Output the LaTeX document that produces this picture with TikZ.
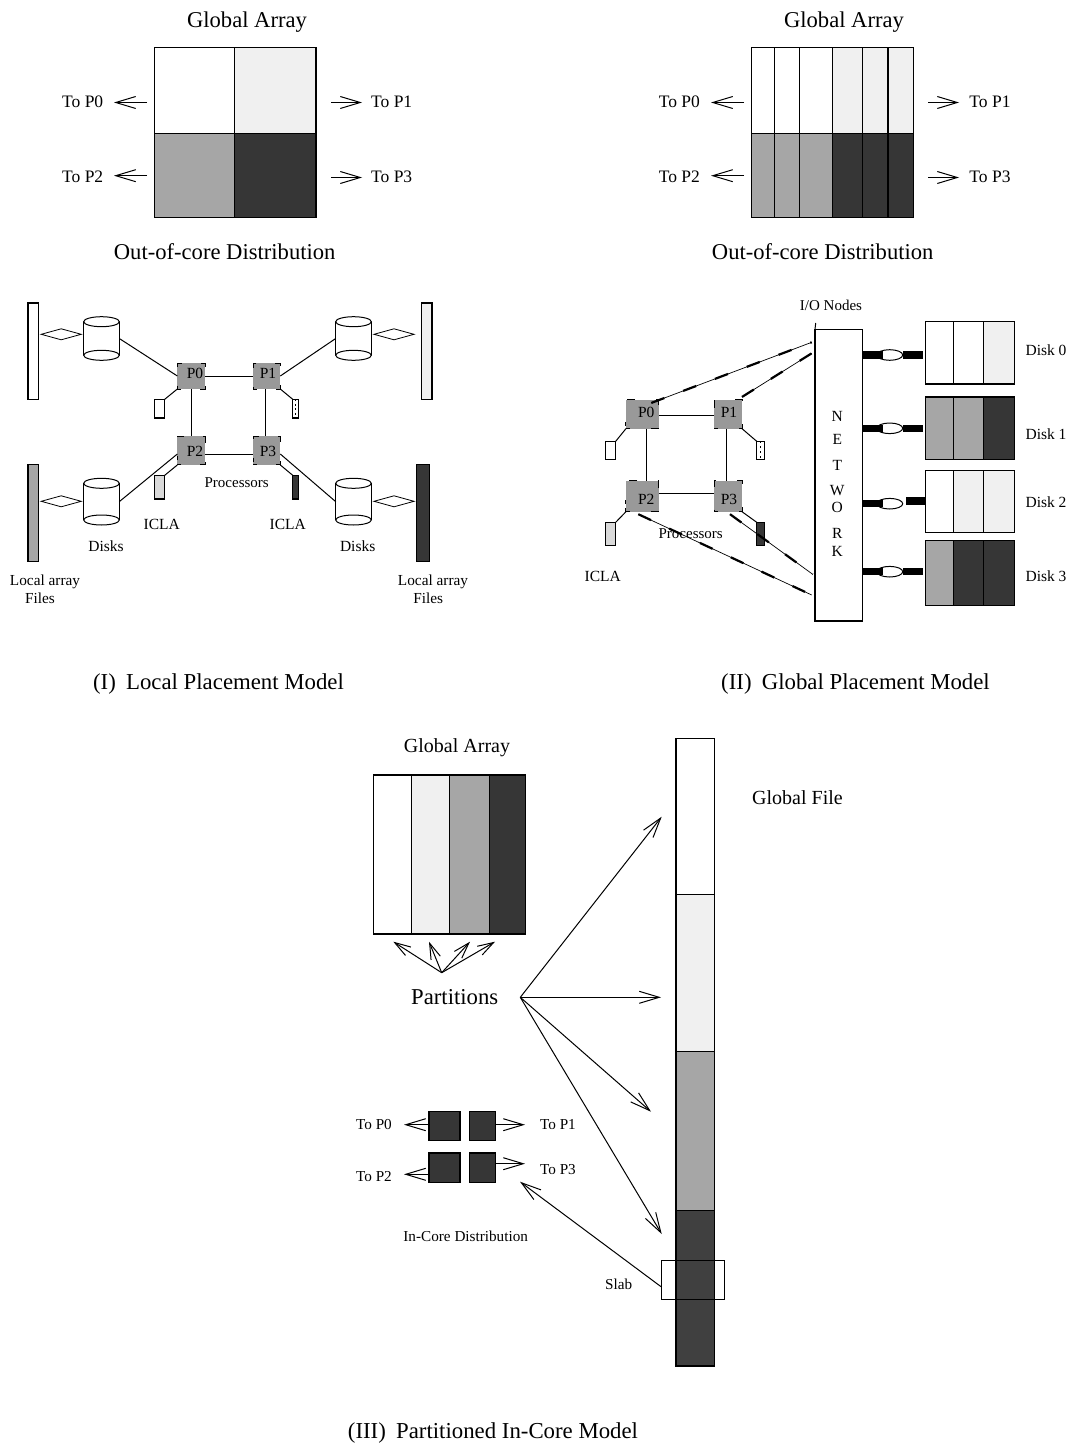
\documentclass[tikz,border=0pt]{standalone}
\usepackage{fontspec}
\setmainfont{Liberation Serif}
\usetikzlibrary{arrows.meta,shapes.geometric}
\definecolor{cw}{HTML}{FFFFFF}
\definecolor{cl}{HTML}{F0F0F0}
\definecolor{cm}{HTML}{A6A6A6}
\definecolor{cd}{HTML}{363636}
\definecolor{cf}{HTML}{404040}
\definecolor{cp}{HTML}{999999}
\definecolor{ci}{HTML}{D9D9D9}
\newcommand{\bx}[6]{\node[cellbox,fill=#6,minimum width={(#4-#2)*1pt},minimum height={(#5-#3)*1pt}] (#1) at ({(#2+#4)/2},{(#3+#5)/2}) {};}
\newcommand{\cyl}[5]{%
  \node[inner sep=0,outer sep=0,minimum width={(#3-#2)*1pt},minimum height={(#5-#4)*1pt}] (#1) at ({(#2+#3)/2},{(#4+#5)/2}) {};
  \draw[thinln] (#2,#4) -- (#2,#5) (#3,#4) -- (#3,#5);
  \draw[thinln] ({(#2+#3)/2},#4) ellipse [x radius={(#3-#2)/2},y radius=5];
  \draw[thinln] ({(#2+#3)/2},#5) ellipse [x radius={(#3-#2)/2},y radius=5];}
\newcommand{\txt}[5]{\node[lbl,anchor=base,font=\fontsize{#5}{#5}\selectfont] (#1) at (#2,{#3+0.33*#5}) {#4};}
\tikzset{
  cellbox/.style={draw=black,line width=1.1pt,inner sep=0,outer sep=0},
  thinln/.style={draw=black,line width=1pt},
  lbl/.style={inner sep=0,outer sep=0,text=black,align=center},
  arr/.style={draw=black,line width=1pt,-{Straight Barb[length=20pt,width=12pt]}},
  arrs/.style={draw=black,line width=1pt,-{Straight Barb[length=16pt,width=10pt]}},
  procA/.style={draw=black,fill=cp,line width=1pt,inner sep=0,outer sep=0,dash pattern=on 4pt off 19pt on 8pt off 19pt on 8pt off 19pt on 8pt off 19pt on 4pt},
  procB/.style={draw=black,fill=cp,line width=1pt,inner sep=0,outer sep=0,dash pattern=on 4pt off 21pt on 8pt off 23pt on 8pt off 21pt on 8pt off 23pt on 4pt},
  dbl/.style={diamond,draw=black,line width=0.8pt,aspect=7,inner sep=0,outer sep=0,minimum width=40pt,minimum height=11pt},
  netln/.style={draw=black,line width=0.7pt,postaction={draw,line width=2.2pt,dash pattern=on 14pt off 20pt}},
  thick bar/.style={draw=black,line width=7.5pt},
  ellnode/.style={ellipse,draw=black,fill=white,line width=1pt,inner sep=0,outer sep=0,minimum width=26pt,minimum height=10.6pt},
}
\begin{document}
\begin{tikzpicture}[x=1pt,y=-1pt]
\useasboundingbox (0,0) rectangle (1073,1447);

% ---------- top left: out-of-core array
\bx{a00}{154.3}{47.5}{234.7}{133.7}{cw}
\bx{a01}{234.7}{47.5}{316}{133.7}{cl}
\bx{a10}{154.3}{133.7}{234.7}{217.5}{cm}
\bx{a11}{234.7}{133.7}{316}{217.5}{cd}
\txt{ga1}{247}{20}{Global Array}{22.6}
\txt{ood1}{224.7}{252}{Out-of-core Distribution}{22.6}
\txt{tA0}{82.7}{102}{To P0}{17.5}
\txt{tA2}{82.7}{177}{To P2}{17.5}
\txt{tA1}{391.7}{102}{To P1}{17.5}
\txt{tA3}{391.7}{177}{To P3}{17.5}
\coordinate (aL0s) at (147,102.5); \coordinate (aL0t) at (114,102.5);
\coordinate (aL2s) at (147,175.7); \coordinate (aL2t) at (114,175.7);
\coordinate (aR1s) at (331,102.5); \coordinate (aR1t) at (362,102.5);
\coordinate (aR3s) at (331,177.5); \coordinate (aR3t) at (362,177.5);
\draw[arr] (aL0s) -- (aL0t);
\draw[arr] (aL2s) -- (aL2t);
\draw[arr] (aR1s) -- (aR1t);
\draw[arr] (aR3s) -- (aR3t);

% ---------- top right: out-of-core array
\bx{b00}{751.7}{47.5}{774.3}{133.7}{cw}
\bx{b01}{774.3}{47.5}{799.7}{133.7}{cw}
\bx{b02}{799.7}{47.5}{832.7}{133.7}{cw}
\bx{b03}{832.7}{47.5}{862.7}{133.7}{cl}
\bx{b04}{862.7}{47.5}{888}{133.7}{cl}
\bx{b05}{888}{47.5}{913.7}{133.7}{cl}
\bx{b10}{751.7}{133.7}{774.3}{217.5}{cm}
\bx{b11}{774.3}{133.7}{799.7}{217.5}{cm}
\bx{b12}{799.7}{133.7}{832.7}{217.5}{cm}
\bx{b13}{832.7}{133.7}{862.7}{217.5}{cd}
\bx{b14}{862.7}{133.7}{888}{217.5}{cd}
\bx{b15}{888}{133.7}{913.7}{217.5}{cd}
\txt{ga2}{844}{20}{Global Array}{22.6}
\txt{ood2}{822.7}{252}{Out-of-core Distribution}{22.6}
\txt{tB0}{679.3}{102}{To P0}{17.5}
\txt{tB2}{679.3}{177}{To P2}{17.5}
\txt{tB1}{990}{102}{To P1}{17.5}
\txt{tB3}{990}{177}{To P3}{17.5}
\coordinate (bL0s) at (744,102.5); \coordinate (bL0t) at (711,102.5);
\coordinate (bL2s) at (744,175.7); \coordinate (bL2t) at (711,175.7);
\coordinate (bR1s) at (928,102.5); \coordinate (bR1t) at (959,102.5);
\coordinate (bR3s) at (928,177.5); \coordinate (bR3t) at (959,177.5);
\draw[arr] (bL0s) -- (bL0t);
\draw[arr] (bL2s) -- (bL2t);
\draw[arr] (bR1s) -- (bR1t);
\draw[arr] (bR3s) -- (bR3t);

% ---------- (I) Local placement
\bx{f0}{28}{303}{38.7}{399.7}{cw}
\bx{f1}{421.3}{303}{432}{399.7}{cl}
\bx{f2}{28}{464.7}{38.7}{561.3}{cm}
\bx{f3}{416.7}{464.7}{429.3}{561.3}{cd}
\node[dbl] (d0) at (61.2,334.3) {};
\node[dbl] (d1) at (394,334.3) {};
\node[dbl] (d2) at (61.2,501.3) {};
\node[dbl] (d3) at (394,501.3) {};
\cyl{c0}{83.7}{119.3}{321.7}{355.3}
\cyl{c1}{335.7}{371.3}{321.7}{355.3}
\cyl{c2}{83.7}{119.3}{483.3}{520}
\cyl{c3}{335.7}{371.3}{483.3}{520}
\bx{ia}{154.3}{399.3}{164.7}{418}{cw}
\bx{ib}{292.7}{399.3}{298.7}{418}{cw}
\bx{ic}{154.3}{475.3}{164.7}{499}{ci}
\bx{id}{292.7}{475.3}{298.7}{499}{cd}
\draw[line width=1.4pt,dash pattern=on 2pt off 2.5pt] (ib.north) -- (ib.south);
\node[procA,minimum width=27.7pt,minimum height=26pt] (PA0) at (191.2,376) {};
\node[procA,minimum width=27pt,minimum height=26pt] (PA1) at (266.8,376) {};
\node[procA,minimum width=27.7pt,minimum height=28.7pt] (PA2) at (191.2,450.6) {};
\node[procA,minimum width=27pt,minimum height=28.7pt] (PA3) at (266.8,450.6) {};
\txt{PA0t}{195}{373.5}{P0}{15.5}
\txt{PA1t}{268}{373.5}{P1}{15.5}
\txt{PA2t}{195}{451.7}{P2}{15.5}
\txt{PA3t}{268}{451.7}{P3}{15.5}
\draw[thinln] (PA0.east) -- (PA1.west);
\draw[thinln] ([yshift=-3.4pt]PA2.east) -- ([yshift=-3.4pt]PA3.west);
\draw[thinln] (PA0.south) -- (PA2.north);
\draw[thinln] ([xshift=-1.5pt]PA1.south) -- ([xshift=-1.5pt]PA3.north);
\draw[thinln] (PA0.south west) -- (ia.north east);
\draw[thinln] (PA1.south east) -- (ib.north west);
\draw[thinln] (PA2.south west) -- (ic.north east);
\draw[thinln] (PA3.south east) -- (id.north west);
\draw[thinln] (c0.east) -- (PA0.west);
\draw[thinln] (c1.west) -- (PA1.east);
\draw[thinln] (c2.east) -- ([yshift=-3.4pt]PA2.west);
\draw[thinln] (c3.west) -- ([yshift=-3.4pt]PA3.east);
\txt{prA}{236.7}{482.7}{Processors}{15}
\txt{icA}{161.7}{524.7}{ICLA}{15.5}
\txt{icB}{287.7}{524.7}{ICLA}{15.5}
\txt{dkA}{106}{546}{Disks}{15.5}
\txt{dkB}{357.7}{546}{Disks}{15.5}
\txt{laA}{45}{580}{Local array}{15.3}
\txt{flA}{40}{598}{Files}{15.3}
\txt{laB}{433}{580}{Local array}{15.3}
\txt{flB}{428.3}{598}{Files}{15.3}
\txt{capI}{218.5}{682}{(I)\hspace{0.45em}Local Placement Model}{22.8}

% ---------- (II) Global placement
\bx{net}{815}{329.3}{862.7}{621}{cw}
\coordinate (netTick) at (815.7,323);
\draw[thinln] (net.north west) -- (netTick);
\txt{io}{831}{305.7}{I/O Nodes}{15}
\txt{nN}{837.3}{416}{N}{15.5}
\txt{nE}{837.3}{439}{E}{15.5}
\txt{nT}{837.3}{465}{T}{15.5}
\txt{nW}{837.3}{490}{W}{15.5}
\txt{nO}{837.3}{507.3}{O}{15.5}
\txt{nR}{837.3}{533.3}{R}{15.5}
\txt{nK}{837.3}{551}{K}{15.5}

\bx{d00}{925.7}{321.7}{953.3}{384}{cw}
\bx{d01}{953.3}{321.7}{983.7}{384}{cw}
\bx{d02}{983.7}{321.7}{1014.3}{384}{cl}
\bx{d10}{925.7}{397}{953.3}{459.7}{cm}
\bx{d11}{953.3}{397}{983.7}{459.7}{cm}
\bx{d12}{983.7}{397}{1014.3}{459.7}{cd}
\bx{d20}{925.7}{470.3}{953.3}{532.3}{cw}
\bx{d21}{953.3}{470.3}{983.7}{532.3}{cl}
\bx{d22}{983.7}{470.3}{1014.3}{532.3}{cl}
\bx{d30}{925.7}{540.7}{953.3}{605.3}{cm}
\bx{d31}{953.3}{540.7}{983.7}{605.3}{cd}
\bx{d32}{983.7}{540.7}{1014.3}{605.3}{cd}
\txt{ds0}{1046}{350}{Disk 0}{15.5}
\txt{ds1}{1046}{434}{Disk 1}{15.5}
\txt{ds2}{1046}{502}{Disk 2}{15.5}
\txt{ds3}{1046}{576.7}{Disk 3}{15.5}

\node[ellnode] (e0) at (889.7,355) {};
\node[ellnode] (e1) at (889.7,428.3) {};
\node[ellnode] (e2) at (889.7,503.7) {};
\node[ellnode] (e3) at (889.7,571.7) {};
\coordinate (n0) at (862.7,355); \coordinate (k0) at (882.7,355);
\coordinate (n1) at (862.7,428.3); \coordinate (k1) at (882.7,428.3);
\coordinate (n2) at (862.7,503.7); \coordinate (k2) at (882.7,503.7);
\coordinate (n3) at (862.7,571.7); \coordinate (k3) at (882.7,571.7);
\coordinate (r0) at (903.3,355); \coordinate (s0) at (923,355);
\coordinate (r1) at (903.3,428.3); \coordinate (s1) at (923,428.3);
\coordinate (r2) at (906,501); \coordinate (s2) at (925.7,501);
\coordinate (r3) at (903.3,571.7); \coordinate (s3) at (923,571.7);
\foreach \i in {0,1,2,3}{
  \draw[thick bar] (n\i) -- (k\i);
  \draw[thick bar] (r\i) -- (s\i);
}

\bx{jb0}{605.7}{441.3}{615.7}{459.7}{cw}
\bx{jb1}{756.7}{441.3}{764.7}{459.7}{cw}
\bx{jb2}{605.7}{522.3}{615.7}{545.7}{ci}
\bx{jb3}{756.7}{522.3}{764.7}{545.7}{cd}
\draw[line width=1.4pt,dash pattern=on 2pt off 3pt] (jb1.north) -- (jb1.south);
\node[procB,minimum width=32.7pt,minimum height=28.7pt] (PB0) at (642.3,414.3) {};
\node[procB,minimum width=28pt,minimum height=28.7pt] (PB1) at (728,414.3) {};
\node[procB,minimum width=32.7pt,minimum height=31pt] (PB2) at (642.3,496.2) {};
\node[procB,minimum width=28pt,minimum height=31pt] (PB3) at (728,496.2) {};
\txt{PB0t}{646.3}{412.7}{P0}{15.5}
\txt{PB1t}{729}{412.7}{P1}{15.5}
\txt{PB2t}{646.3}{499}{P2}{15.5}
\txt{PB3t}{729}{499}{P3}{15.5}
\draw[thinln] ([yshift=-1.6pt]PB0.east) -- ([yshift=-1.6pt]PB1.west);
\draw[thinln] ([yshift=2.8pt]PB2.east) -- ([yshift=2.8pt]PB3.west);
\draw[thinln] ([xshift=4pt]PB0.south) -- ([xshift=4pt]PB2.north);
\draw[thinln] ([xshift=-1.3pt]PB1.south) -- ([xshift=-1.3pt]PB3.north);
\draw[thinln] (PB0.south west) -- (jb0.north east);
\draw[thinln] (PB1.south east) -- (jb1.north west);
\draw[thinln] (PB2.south west) -- (jb2.north east);
\draw[thinln] (PB3.south east) -- (jb3.north west);
\coordinate (t0) at (811.7,342.3);
\coordinate (t1) at (811.7,353.3);
\coordinate (t2) at (811.7,595);
\coordinate (t3) at (812.7,574.3);
\draw[netln] ([xshift=9pt,yshift=-3pt]PB0.north) -- (t0);
\draw[netln] ([yshift=3pt]PB1.north east) -- (t1);
\draw[netln] ([xshift=-4pt,yshift=-2.5pt]PB2.south) -- (t2);
\draw[netln] ([xshift=2pt,yshift=-2.5pt]PB3.south) -- (t3);
\txt{prB}{690.7}{533.3}{Processors}{15}
\txt{icC}{602.7}{576.7}{ICLA}{15.5}
\txt{capII}{855.5}{682}{(II)\hspace{0.45em}Global Placement Model}{22.8}

% ---------- (III) Partitioned in-core
\bx{g0}{373.7}{775}{411.7}{934}{cw}
\bx{g1}{411.7}{775}{449.3}{934}{cl}
\bx{g2}{449.3}{775}{489.3}{934}{cm}
\bx{g3}{489.3}{775}{525.3}{934}{cd}
\txt{ga3}{457}{745.7}{Global Array}{20}
\txt{part}{454.7}{997}{Partitions}{22.7}
\coordinate (pu) at (441.7,972.7);
\coordinate (pu0) at (393.3,941.7);
\coordinate (pu1) at (429,941.7);
\coordinate (pu2) at (470,941.7);
\coordinate (pu3) at (495,941.7);
\foreach \i in {0,1,2,3}{\draw[arrs] (pu) -- (pu\i);}
\bx{h0}{676}{738.7}{714.3}{894.7}{cw}
\bx{h1}{676}{894.7}{714.3}{1051.7}{cl}
\bx{h2}{676}{1051.7}{714.3}{1210.7}{cm}
\bx{h3}{676}{1210.7}{714.3}{1366}{cf}
\node[draw=black,line width=1pt,inner sep=0,outer sep=0,minimum width=63.3pt,minimum height=39.3pt] (slab) at (692.7,1279.7) {};
\txt{gf}{797.5}{798}{Global File}{20}
\coordinate (ps) at (520.3,997.3);
\coordinate (pt0) at (661.7,816.7);
\coordinate (pt1) at (661,997.3);
\coordinate (pt2) at (651,1111.7);
\coordinate (pt3) at (661.7,1234);
\foreach \i in {0,1,2,3}{\draw[arr] (ps) -- (pt\i);}
\bx{sa}{429}{1111.3}{460}{1140.7}{cd}
\bx{sb}{469.3}{1111.3}{495.3}{1140.7}{cd}
\bx{sc}{429}{1153}{460}{1182.3}{cd}
\bx{sd}{469.3}{1153}{495.3}{1182.3}{cd}
\coordinate (ta) at (404,1124.7);
\coordinate (tb) at (525,1124.7);
\coordinate (tc) at (404,1174.3);
\coordinate (td) at (525,1163.7);
\draw[arr] (sa.west |- ta) -- (ta);
\draw[arr] (sb.east |- tb) -- (tb);
\draw[arr] (sc.west |- tc) -- (tc);
\draw[arr] (sd.east |- td) -- (td);
\txt{tC0}{374}{1124.7}{To P0}{15.2}
\txt{tC1}{558}{1124.7}{To P1}{15.2}
\txt{tC2}{374}{1176.7}{To P2}{15.2}
\txt{tC3}{558}{1169}{To P3}{15.2}
\txt{inc}{465.7}{1236.7}{In-Core Distribution}{15.2}
\txt{slabt}{618.7}{1284}{Slab}{15.2}
\coordinate (slt) at (520,1181.7);
\draw[arr] ([yshift=-7pt]slab.west) -- (slt);
\txt{capIII}{493}{1431}{(III)\hspace{0.45em}Partitioned In-Core Model}{22.8}
\end{tikzpicture}
\end{document}
